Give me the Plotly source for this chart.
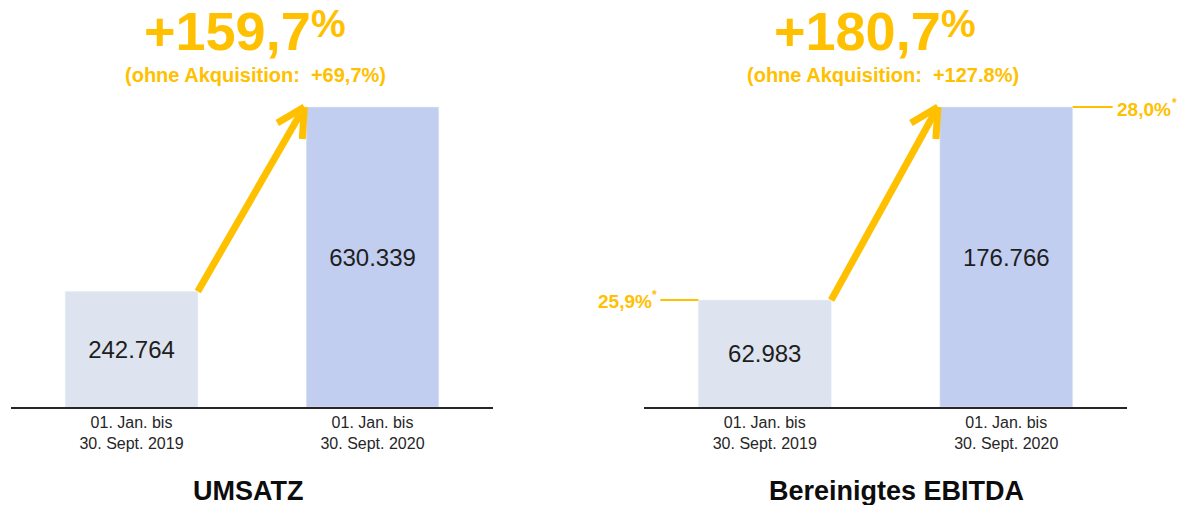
import plotly.graph_objects as go

# ---------------- data ----------------
periods = ["01. Jan. bis<br>30. Sept. 2019", "01. Jan. bis<br>30. Sept. 2020"]
umsatz = [242764, 630339]
ebitda = [62983, 176766]
ebitda_margin = ["25,9%", "28,0%"]
growth_umsatz = "+159,7"
growth_ebitda = "+180,7"
sub_umsatz = "(ohne Akquisition:\u00a0 +69,7%)"
sub_ebitda = "(ohne Akquisition:\u00a0 +127.8%)"
titles = ["UMSATZ", "Bereinigtes EBITDA"]

# ---------------- style ----------------
W, H = 1187, 505
GOLD = "#FFC000"
BAR_COLORS = ["#DEE4EF", "#C2CEF0"]
FONT = "Arial, Liberation Sans, sans-serif"
BW = 0.55


def px(p):
    return p / W


def py(p):
    return 1 - p / H


def fmt(v):
    return f"{v:,}".replace(",", ".")


base = py(407)
top_px = 107

fig = go.Figure()
fig.add_trace(go.Bar(x=periods, y=umsatz, width=BW, marker_color=BAR_COLORS,
                     text=[fmt(v) for v in umsatz], textposition="inside",
                     insidetextanchor="middle",
                     textfont=dict(size=24, color="#1e1e1e", family=FONT),
                     xaxis="x", yaxis="y", hoverinfo="skip"))
fig.add_trace(go.Bar(x=periods, y=ebitda, width=BW, marker_color=BAR_COLORS,
                     text=[fmt(v) for v in ebitda], textposition="inside",
                     insidetextanchor="middle",
                     textfont=dict(size=24, color="#1e1e1e", family=FONT),
                     xaxis="x2", yaxis="y2", hoverinfo="skip"))

xcommon = dict(type="category", range=[-0.5, 1.5], showline=True, linecolor="#262626",
               linewidth=2, ticks="", showgrid=False, zeroline=False,
               tickfont=dict(size=16, color="#262626", family=FONT), fixedrange=True)
scale = (407 - 0) / (407 - top_px)
fig.update_layout(
    width=W, height=H, margin=dict(l=0, r=0, t=0, b=0),
    paper_bgcolor="white", plot_bgcolor="white", showlegend=False,
    xaxis=dict(domain=[px(11), px(493)], anchor="y", **xcommon),
    xaxis2=dict(domain=[px(644), px(1127)], anchor="y2", **xcommon),
    yaxis=dict(domain=[base, 1], range=[0, max(umsatz) * scale], visible=False, fixedrange=True),
    yaxis2=dict(domain=[base, 1], range=[0, max(ebitda) * scale], visible=False, fixedrange=True),
)

shapes = []
annotations = []
for xr, yr, vals in (("x", "y", umsatz), ("x2", "y2", ebitda)):
    # growth arrow from top-right of bar 1 to top-left of bar 2
    tip_x = 1 - BW / 2 - 0.008
    shapes.append(dict(type="line", xref=xr, yref=yr, x0=BW / 2, y0=vals[0], x1=tip_x, y1=vals[1],
                       line=dict(color=GOLD, width=7)))
    for dx, dy in ((-27, -16), (-2, -32)):
        shapes.append(dict(type="line", xref=xr, yref=yr, xsizemode="pixel", ysizemode="pixel",
                           xanchor=tip_x, yanchor=vals[1], x0=0, y0=0, x1=dx, y1=dy,
                           line=dict(color=GOLD, width=7)))

# EBITDA margin lines and labels
shapes.append(dict(type="line", xref="x2", yref="y2", xsizemode="pixel", xanchor=-BW / 2,
                   x0=-38, x1=0, y0=ebitda[0], y1=ebitda[0], line=dict(color=GOLD, width=2)))
shapes.append(dict(type="line", xref="x2", yref="y2", xsizemode="pixel", xanchor=1 + BW / 2,
                   x0=0, x1=40, y0=ebitda[1], y1=ebitda[1], line=dict(color=GOLD, width=2)))
mfont = dict(size=19, color=GOLD, family=FONT, weight="bold")
sfont = dict(size=12, color=GOLD, family=FONT, weight="bold")
annotations.append(dict(xref="x2", yref="y2", x=-BW / 2, y=ebitda[0], xanchor="right", yanchor="middle",
                        xshift=-44, yshift=-1, showarrow=False, text=ebitda_margin[0], font=mfont))
annotations.append(dict(xref="x2", yref="y2", x=-BW / 2, y=ebitda[0], xanchor="right", yanchor="middle",
                        xshift=-39, yshift=5, showarrow=False, text="*", font=sfont))
annotations.append(dict(xref="x2", yref="y2", x=1 + BW / 2, y=ebitda[1], xanchor="left", yanchor="middle",
                        xshift=42, yshift=-2, showarrow=False, text=ebitda_margin[1], font=mfont))
annotations.append(dict(xref="x2", yref="y2", x=1 + BW / 2, y=ebitda[1], xanchor="left", yanchor="middle",
                        xshift=97, yshift=4, showarrow=False, text="*", font=sfont))

# headers
for txt, sub, right_px, cx in ((growth_umsatz, sub_umsatz, 313, 255), (growth_ebitda, sub_ebitda, 943, 883)):
    annotations.append(dict(xref="paper", yref="paper", x=px(right_px), y=py(31), xanchor="right",
                            yanchor="middle", showarrow=False, text=txt,
                            font=dict(size=54, color=GOLD, family=FONT, weight="bold")))
    annotations.append(dict(xref="paper", yref="paper", x=px(right_px - 4), y=py(23), xanchor="left",
                            yanchor="middle", showarrow=False, text="%",
                            font=dict(size=39, color=GOLD, family=FONT, weight="bold")))
    annotations.append(dict(xref="paper", yref="paper", x=px(cx), y=py(75), xanchor="center",
                            yanchor="middle", showarrow=False, text=sub,
                            font=dict(size=20, color=GOLD, family=FONT, weight="bold")))

for t, cx in zip(titles, (248, 896)):
    annotations.append(dict(xref="paper", yref="paper", x=px(cx), y=py(491), xanchor="center",
                            yanchor="middle", showarrow=False, text=t,
                            font=dict(size=27, color="#0d0d0d", family=FONT, weight="bold")))

fig.update_layout(shapes=shapes, annotations=annotations)
fig.write_html("out.html")
